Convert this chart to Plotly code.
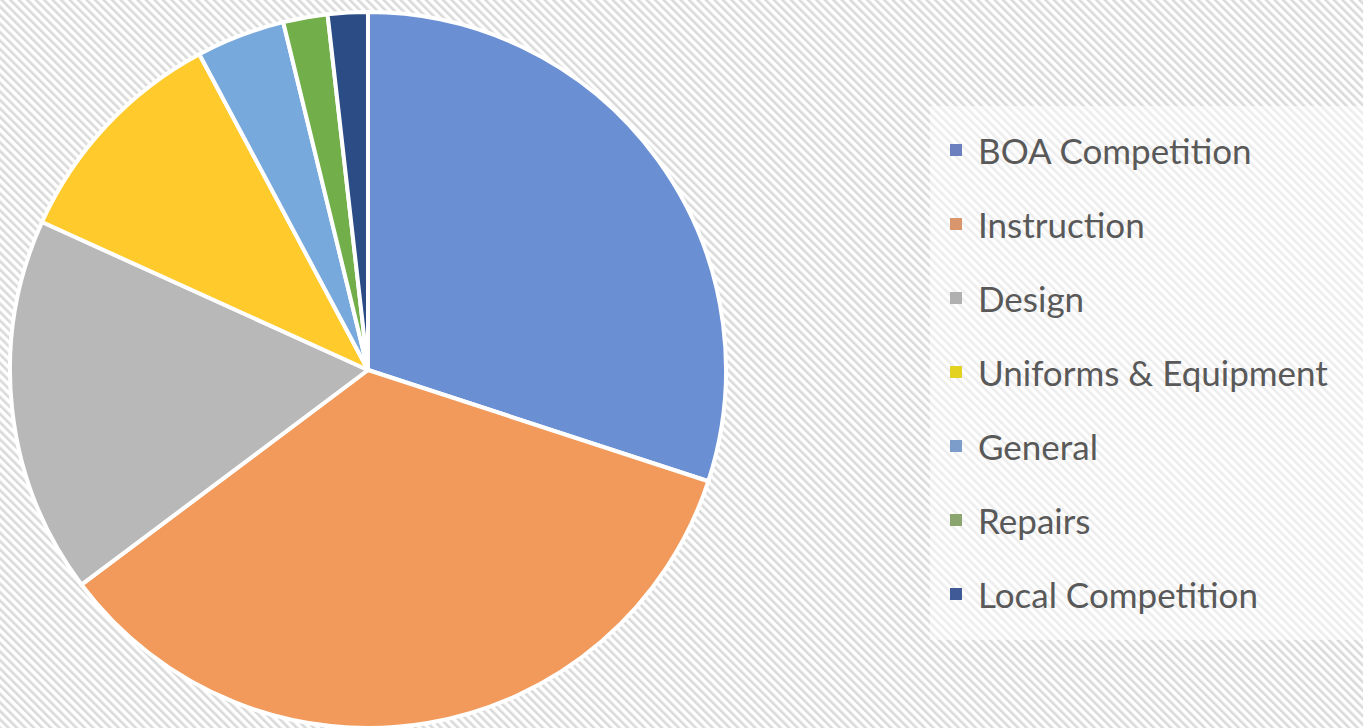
import base64
import plotly.graph_objects as go

# ---- data ----
labels = ["BOA Competition", "Instruction", "Design", "Uniforms & Equipment",
          "General", "Repairs", "Local Competition"]
values = [30.0, 34.7, 17.0, 10.4, 4.0, 2.0, 1.8]
colors = ["#6b8fd3", "#f19a5b", "#b8b8b8", "#ffca2c", "#78a9dc", "#72af4a", "#2c4c86"]
legend_colors = ["#6c7fbf", "#d9956b", "#b0b0b0", "#e3d320", "#7c9cc9", "#8aa66e", "#3f5a96"]

W, H = 1363, 728

# hatch background (diagonal light-grey lines)
svg = f'''<svg xmlns="http://www.w3.org/2000/svg" width="{W}" height="{H}" viewBox="0 0 {W} {H}" preserveAspectRatio="none">
<defs><pattern id="p" patternUnits="userSpaceOnUse" width="6" height="6" patternTransform="rotate(-45)">
<rect x="0" y="0" width="6" height="6" fill="#ffffff"/>
<rect x="0" y="0" width="2.6" height="6" fill="#dadada"/></pattern></defs>
<rect width="{W}" height="{H}" fill="url(#p)"/></svg>'''
src = "data:image/svg+xml;base64," + base64.b64encode(svg.encode()).decode()

fig = go.Figure()
fig.add_trace(go.Pie(
    labels=labels, values=values, sort=False, direction="clockwise", rotation=0,
    marker=dict(colors=colors, line=dict(color="white", width=4)),
    textinfo="none", hoverinfo="label+percent", showlegend=False,
    domain=dict(x=[8 / W, 728 / W], y=[0.0, 1 - 12 / H]),
))

shapes = []
annotations = []
# legend box
shapes.append(dict(type="rect", xref="paper", yref="paper",
                   x0=930 / W, x1=1.0, y0=1 - 640 / H, y1=1 - 106 / H,
                   fillcolor="rgba(255,255,255,0.5)", line=dict(width=0), layer="above"))
y0, step = 150, 74.0
for i, (lab, c) in enumerate(zip(labels, legend_colors)):
    yc = y0 + i * step
    shapes.append(dict(type="rect", xref="paper", yref="paper",
                       x0=950 / W, x1=962 / W, y0=1 - (yc + 6) / H, y1=1 - (yc - 6) / H,
                       fillcolor=c, line=dict(width=0), layer="above"))
    annotations.append(dict(text=lab, xref="paper", yref="paper",
                            x=976 / W, y=1 - yc / H, xanchor="left", yanchor="middle",
                            showarrow=False,
                            font=dict(family="Lato", size=35, color="#595959")))

fig.update_layout(
    width=W, height=H, margin=dict(l=0, r=0, t=0, b=0),
    paper_bgcolor="white", plot_bgcolor="white",
    shapes=shapes, annotations=annotations,
    images=[dict(source=src, xref="paper", yref="paper", x=0, y=1, sizex=1, sizey=1,
                 sizing="stretch", xanchor="left", yanchor="top", layer="below")],
)
fig.write_html("out.html", config={"displayModeBar": False},
               post_script="document.body.style.margin='0';document.body.style.overflow='hidden';")
